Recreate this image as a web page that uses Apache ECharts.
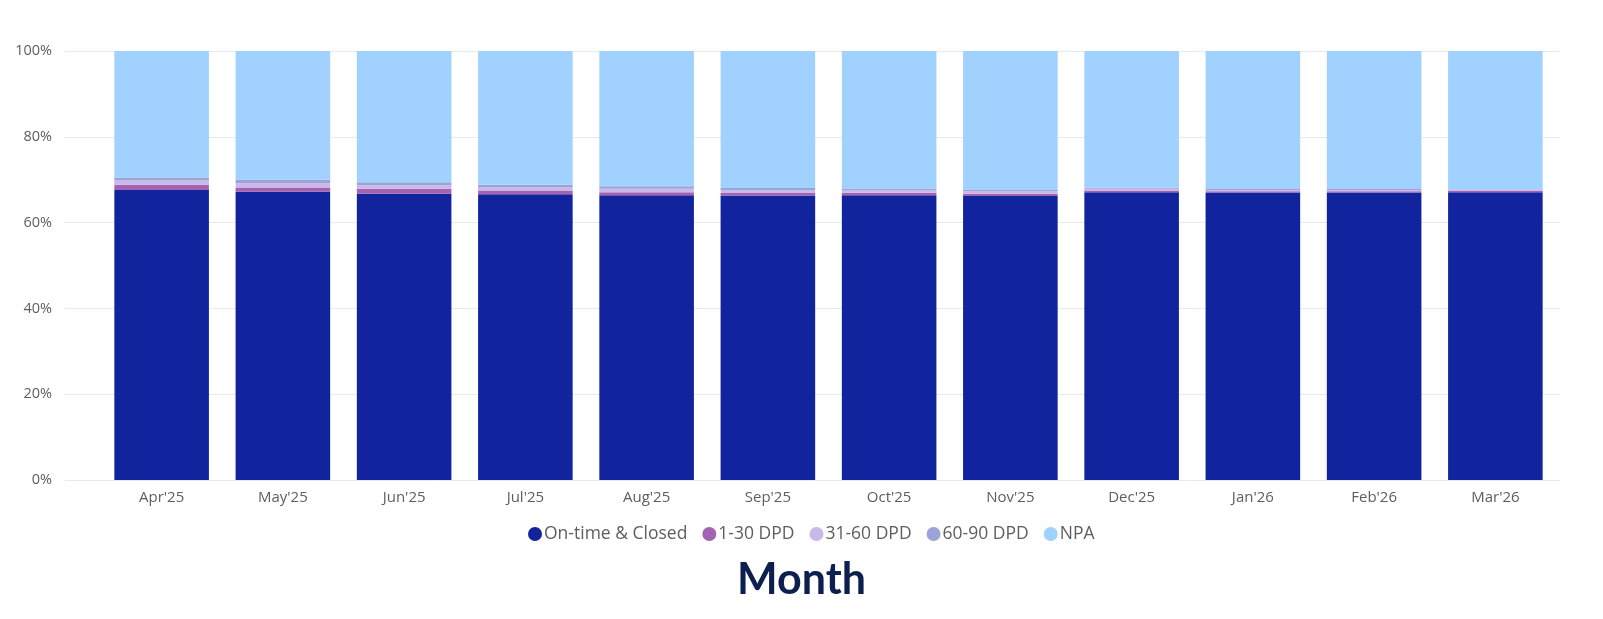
<!DOCTYPE html>
<html style="height: 100%">
<head>
  <meta charset="utf-8">
  <title>Monthly bucket mix</title>
  <script src="https://cdn.jsdelivr.net/npm/echarts@6/dist/echarts.min.js"></script>
</head>
<body style="margin: 0; height: 100%; background: #fff">
  <div id="main" style="width: 1603px; height: 619px"></div>

  <script>
    const months = ["Apr'25", "May'25", "Jun'25", "Jul'25", "Aug'25", "Sep'25",
                    "Oct'25", "Nov'25", "Dec'25", "Jan'26", "Feb'26", "Mar'26"];
    const onTime = [67.6, 67.2, 66.7, 66.6, 66.4, 66.3, 66.35, 66.2, 67.1, 67.0, 67.0, 67.1];
    const dpd1to30 = [1.2, 1.0, 1.2, 0.9, 0.7, 0.6, 0.6, 0.55, 0.4, 0.3, 0.3, 0.25];
    const dpd31to60 = [1.0, 1.0, 0.8, 0.8, 0.8, 0.6, 0.55, 0.55, 0.4, 0.3, 0.3, 0.3];
    const dpd60to90 = [0.7, 0.8, 0.7, 0.5, 0.55, 0.55, 0.45, 0.4, 0.25, 0.25, 0.25, 0.15];
    const npa = [29.5, 30.0, 30.6, 31.2, 31.55, 31.95, 32.05, 32.3, 31.85, 32.15, 32.15, 32.2];
    const yTicks = [0, 20, 40, 60, 80, 100];

    const chart = echarts.init(document.getElementById('main'));
    const font = '"Open Sans", "Noto Sans", sans-serif';

    function bar(name, data, color) {
      return {
        name,
        type: 'bar',
        stack: 'total',
        data,
        barWidth: '78%',
        xAxisIndex: 0,
        yAxisIndex: 0,
        itemStyle: { color },
        emphasis: { disabled: true }
      };
    }

    chart.setOption({
      animation: false,
      textStyle: { fontFamily: font },
      title: {
        text: 'Month',
        left: 'center',
        top: 554,
        textStyle: { fontFamily: 'Lato, sans-serif', fontSize: 43, fontWeight: 'bold', color: '#0c1f4e' }
      },
      legend: {
        top: 520,
        left: 523,
        icon: 'circle',
        itemWidth: 14,
        itemHeight: 14,
        itemGap: 15,
        textStyle: { fontSize: 17.5, color: '#605e5c', padding: [0, 0, 0, -3] },
        data: ['On-time & Closed', '1-30 DPD', '31-60 DPD', '60-90 DPD', 'NPA']
      },
      grid: [
        { left: 101, right: 47, top: 51, height: 429 },
        { left: 65, right: 43, top: 51, height: 429 }
      ],
      xAxis: [
        {
          type: 'category',
          gridIndex: 0,
          data: months,
          axisLine: { show: false },
          axisTick: { show: false },
          axisLabel: { color: '#605e5c', fontSize: 15, margin: 10 }
        },
        { type: 'value', gridIndex: 1, show: false }
      ],
      yAxis: [
        {
          type: 'value',
          gridIndex: 0,
          min: 0,
          max: 100,
          interval: 20,
          axisLabel: { show: false },
          splitLine: { show: false }
        },
        {
          type: 'value',
          gridIndex: 1,
          min: yTicks[0],
          max: yTicks[yTicks.length - 1],
          interval: 20,
          axisLine: { show: false },
          axisTick: { show: false },
          axisLabel: { color: '#605e5c', fontSize: 14.5, margin: 13, formatter: '{value}%' },
          splitLine: { lineStyle: { color: '#e9e9e9', width: 1 } }
        }
      ],
      series: [
        bar('On-time & Closed', onTime, '#12239e'),
        bar('1-30 DPD', dpd1to30, '#a463b0'),
        bar('31-60 DPD', dpd31to60, '#c9b8e8'),
        bar('60-90 DPD', dpd60to90, '#9ca3d8'),
        bar('NPA', npa, '#a0d1ff')
      ]
    });
  </script>
</body>
</html>
